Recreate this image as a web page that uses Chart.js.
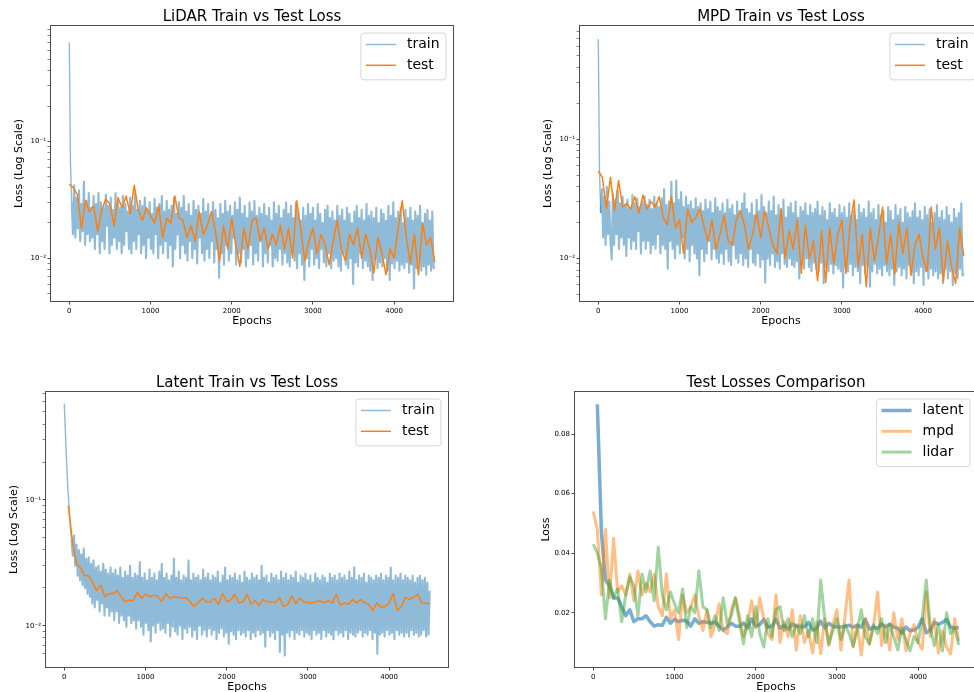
<!DOCTYPE html>
<html>
<head>
<meta charset="utf-8">
<script src="https://cdn.jsdelivr.net/npm/chart.js@4.4.1/dist/chart.umd.min.js"></script>
<style>
html, body { margin: 0; padding: 0; background: #fff; }
body { width: 974px; height: 692px; overflow: hidden; position: relative; }
.panel { position: absolute; }
</style>
</head>
<body>
<div class="panel" style="left:0px;top:0px;width:463px;height:332px"><canvas id="lidarChart"></canvas></div>
<div class="panel" style="left:529px;top:0px;width:463px;height:332px"><canvas id="mpdChart"></canvas></div>
<div class="panel" style="left:0px;top:366px;width:458px;height:332px"><canvas id="latentChart"></canvas></div>
<div class="panel" style="left:524px;top:366px;width:463px;height:332px"><canvas id="compareChart"></canvas></div>
<script>
// epochs: train read every 15, test every 50
const trainStep = 15;
const testStep = 50;
const xTicks = [0, 1000, 2000, 3000, 4000];
const logTickValues = [0.01, 0.1];
const logTickLabels = ['10⁻²', '10⁻¹'];
const lossTicks = [0.02, 0.04, 0.06, 0.08];

const lidarTrain = [
  0.70, 0.065, 0.030, 0.016, 0.042, 0.015, 0.033, 0.018, 0.038, 0.014, 0.029, 0.017, 0.045, 0.013, 0.031, 0.016, 0.036, 0.014, 0.027, 0.015,
  0.034, 0.012, 0.029, 0.016, 0.036, 0.011, 0.030, 0.014, 0.027, 0.012, 0.035, 0.019, 0.028, 0.011, 0.033, 0.013, 0.026, 0.015, 0.036, 0.012,
  0.030, 0.014, 0.027, 0.011, 0.034, 0.013, 0.029, 0.017, 0.025, 0.012, 0.033, 0.011, 0.028, 0.014, 0.036, 0.012, 0.026, 0.016, 0.031, 0.011,
  0.028, 0.013, 0.033, 0.010, 0.026, 0.015, 0.030, 0.012, 0.024, 0.011, 0.032, 0.016, 0.027, 0.010, 0.029, 0.013, 0.034, 0.011, 0.025, 0.014,
  0.031, 0.010, 0.026, 0.013, 0.028, 0.0085, 0.033, 0.012, 0.024, 0.016, 0.030, 0.010, 0.027, 0.013, 0.034, 0.011, 0.025, 0.0095, 0.029, 0.014,
  0.023, 0.010, 0.031, 0.012, 0.026, 0.009, 0.028, 0.015, 0.024, 0.011, 0.032, 0.0095, 0.025, 0.012, 0.029, 0.010, 0.023, 0.014, 0.030, 0.0092,
  0.026, 0.012, 0.022, 0.0068, 0.029, 0.011, 0.024, 0.0088, 0.031, 0.013, 0.025, 0.0095, 0.028, 0.011, 0.023, 0.015, 0.030, 0.0088, 0.026, 0.011,
  0.033, 0.0092, 0.024, 0.012, 0.028, 0.0085, 0.022, 0.010, 0.030, 0.013, 0.025, 0.0088, 0.031, 0.011, 0.023, 0.0095, 0.027, 0.014, 0.024, 0.0085,
  0.029, 0.011, 0.023, 0.0092, 0.027, 0.013, 0.021, 0.0085, 0.030, 0.010, 0.024, 0.0095, 0.028, 0.012, 0.022, 0.0088, 0.026, 0.011, 0.030, 0.0092,
  0.024, 0.0085, 0.028, 0.012, 0.022, 0.0095, 0.030, 0.0082, 0.025, 0.011, 0.021, 0.0088, 0.027, 0.0065, 0.023, 0.010, 0.029, 0.0085, 0.024, 0.012,
  0.027, 0.0088, 0.021, 0.010, 0.029, 0.0082, 0.024, 0.012, 0.020, 0.0092, 0.026, 0.0085, 0.028, 0.011, 0.022, 0.0082, 0.025, 0.0095, 0.021, 0.010,
  0.028, 0.0085, 0.023, 0.0078, 0.026, 0.011, 0.021, 0.0088, 0.027, 0.0082, 0.024, 0.010, 0.020, 0.006, 0.025, 0.0092, 0.028, 0.0085, 0.022, 0.011,
  0.026, 0.0082, 0.021, 0.0095, 0.029, 0.0085, 0.023, 0.0078, 0.025, 0.0065, 0.022, 0.0098, 0.027, 0.0082, 0.020, 0.0092, 0.026, 0.0085, 0.024, 0.010,
  0.021, 0.0078, 0.028, 0.0065, 0.023, 0.009, 0.030, 0.0082, 0.022, 0.0095, 0.025, 0.0078, 0.027, 0.0088, 0.020, 0.0082, 0.026, 0.0092, 0.022, 0.0075,
  0.027, 0.0088, 0.021, 0.0055, 0.025, 0.0082, 0.023, 0.0092, 0.028, 0.0078, 0.020, 0.0085, 0.024, 0.0072, 0.026, 0.0088, 0.021, 0.0078, 0.025, 0.0082,
  0.0085
];
const lidarTest = [
  0.043, 0.040, 0.035, 0.018, 0.031, 0.025, 0.028, 0.017, 0.026, 0.032,
  0.029, 0.019, 0.033, 0.027, 0.034, 0.024, 0.042, 0.026, 0.021, 0.027,
  0.023, 0.020, 0.028, 0.015, 0.022, 0.020, 0.034, 0.022, 0.021, 0.015,
  0.019, 0.014, 0.025, 0.016, 0.019, 0.025, 0.017, 0.0095, 0.019, 0.012,
  0.022, 0.013, 0.0085, 0.018, 0.012, 0.021, 0.022, 0.014, 0.018, 0.012,
  0.016, 0.013, 0.019, 0.012, 0.018, 0.010, 0.031, 0.018, 0.0095, 0.014,
  0.018, 0.011, 0.016, 0.013, 0.0088, 0.014, 0.021, 0.012, 0.0095, 0.016,
  0.013, 0.018, 0.010, 0.016, 0.012, 0.0075, 0.015, 0.011, 0.0072, 0.012,
  0.010, 0.018, 0.031, 0.015, 0.009, 0.016, 0.0072, 0.020, 0.013, 0.015,
  0.0092
];
const mpdTrain = [
  0.69, 0.055, 0.024, 0.038, 0.015, 0.033, 0.013, 0.040, 0.016, 0.030, 0.014, 0.0098, 0.035, 0.013, 0.031, 0.016, 0.037, 0.012, 0.029, 0.015,
  0.033, 0.013, 0.028, 0.0105, 0.031, 0.015, 0.026, 0.012, 0.034, 0.014, 0.029, 0.012, 0.032, 0.017, 0.027, 0.011, 0.030, 0.014, 0.033, 0.012,
  0.028, 0.014, 0.031, 0.011, 0.026, 0.013, 0.033, 0.012, 0.029, 0.016, 0.027, 0.011, 0.032, 0.013, 0.038, 0.012, 0.028, 0.0082, 0.030, 0.014,
  0.044, 0.012, 0.029, 0.010, 0.045, 0.013, 0.031, 0.011, 0.036, 0.015, 0.027, 0.010, 0.033, 0.012, 0.028, 0.0095, 0.030, 0.013, 0.026, 0.011,
  0.032, 0.010, 0.027, 0.0072, 0.029, 0.012, 0.025, 0.0095, 0.031, 0.011, 0.026, 0.014, 0.030, 0.0098, 0.024, 0.012, 0.032, 0.010, 0.027, 0.0092,
  0.025, 0.011, 0.029, 0.009, 0.024, 0.012, 0.031, 0.0095, 0.026, 0.0088, 0.028, 0.013, 0.023, 0.010, 0.030, 0.0092, 0.025, 0.011, 0.029, 0.0088,
  0.035, 0.010, 0.026, 0.0085, 0.024, 0.012, 0.029, 0.0092, 0.023, 0.0088, 0.031, 0.011, 0.025, 0.0085, 0.034, 0.0098, 0.027, 0.0063, 0.024, 0.010,
  0.030, 0.0088, 0.025, 0.011, 0.033, 0.0085, 0.023, 0.0095, 0.028, 0.0082, 0.026, 0.011, 0.031, 0.009, 0.022, 0.0085, 0.027, 0.010, 0.029, 0.0088,
  0.024, 0.0085, 0.030, 0.0095, 0.022, 0.0068, 0.027, 0.009, 0.025, 0.0082, 0.029, 0.010, 0.023, 0.0085, 0.028, 0.0078, 0.024, 0.0092, 0.026, 0.0082,
  0.030, 0.0078, 0.023, 0.0092, 0.027, 0.0062, 0.025, 0.0085, 0.021, 0.0078, 0.029, 0.009, 0.024, 0.0075, 0.026, 0.0088, 0.022, 0.0082, 0.028, 0.0078,
  0.024, 0.0057, 0.027, 0.0085, 0.022, 0.0078, 0.029, 0.009, 0.023, 0.0072, 0.025, 0.0085, 0.021, 0.0078, 0.028, 0.0062, 0.024, 0.0088, 0.026, 0.0075,
  0.022, 0.0085, 0.030, 0.0058, 0.024, 0.0078, 0.026, 0.009, 0.021, 0.0075, 0.028, 0.0082, 0.023, 0.0072, 0.025, 0.0088, 0.020, 0.0078, 0.027, 0.0072,
  0.025, 0.0082, 0.021, 0.006, 0.028, 0.0078, 0.023, 0.0085, 0.026, 0.0072, 0.020, 0.0082, 0.027, 0.0068, 0.024, 0.0088, 0.022, 0.0075, 0.025, 0.0062,
  0.029, 0.0078, 0.022, 0.0072, 0.025, 0.0085, 0.021, 0.006, 0.027, 0.0078, 0.023, 0.0068, 0.026, 0.0082, 0.020, 0.0072, 0.024, 0.0078, 0.028, 0.0068,
  0.022, 0.0075, 0.025, 0.0062, 0.021, 0.0082, 0.027, 0.0068, 0.023, 0.0078, 0.020, 0.006, 0.026, 0.0075, 0.022, 0.0068, 0.024, 0.0082, 0.029, 0.0072,
  0.0075
];
const mpdTest = [
  0.054, 0.048, 0.026, 0.048, 0.025, 0.045, 0.027, 0.029, 0.026, 0.033,
  0.024, 0.034, 0.026, 0.030, 0.027, 0.033, 0.022, 0.019, 0.033, 0.018,
  0.021, 0.011, 0.026, 0.020, 0.022, 0.026, 0.019, 0.014, 0.021, 0.012,
  0.016, 0.023, 0.014, 0.013, 0.021, 0.025, 0.019, 0.012, 0.016, 0.024,
  0.015, 0.025, 0.018, 0.013, 0.011, 0.026, 0.010, 0.017, 0.012, 0.021,
  0.0075, 0.019, 0.010, 0.014, 0.0065, 0.017, 0.0063, 0.018, 0.009, 0.016,
  0.021, 0.0075, 0.019, 0.031, 0.0085, 0.016, 0.0058, 0.018, 0.0095, 0.015,
  0.027, 0.009, 0.016, 0.0075, 0.020, 0.011, 0.018, 0.0072, 0.013, 0.016,
  0.010, 0.0078, 0.027, 0.012, 0.018, 0.0065, 0.014, 0.0085, 0.0062, 0.018,
  0.0105
];
const latentTrain = [
  0.58, 0.33, 0.19, 0.12, 0.085, 0.060, 0.048, 0.036, 0.052, 0.030, 0.044, 0.025, 0.040, 0.023, 0.037, 0.021, 0.041, 0.020, 0.034, 0.018,
  0.035, 0.017, 0.031, 0.015, 0.033, 0.014, 0.029, 0.016, 0.030, 0.013, 0.027, 0.015, 0.031, 0.012, 0.028, 0.014, 0.026, 0.012, 0.029, 0.013,
  0.026, 0.011, 0.028, 0.013, 0.025, 0.0105, 0.029, 0.012, 0.024, 0.011, 0.027, 0.0098, 0.025, 0.012, 0.030, 0.0105, 0.024, 0.011, 0.026, 0.0095,
  0.025, 0.011, 0.032, 0.0098, 0.024, 0.0085, 0.026, 0.0105, 0.023, 0.0092, 0.028, 0.0075, 0.024, 0.010, 0.026, 0.0088, 0.023, 0.0105, 0.027, 0.0092,
  0.031, 0.0095, 0.024, 0.0088, 0.026, 0.0105, 0.023, 0.0082, 0.025, 0.0098, 0.034, 0.009, 0.024, 0.0085, 0.027, 0.010, 0.023, 0.0078, 0.025, 0.0095,
  0.024, 0.0088, 0.033, 0.0098, 0.023, 0.0082, 0.026, 0.0092, 0.024, 0.0078, 0.025, 0.010, 0.023, 0.0085, 0.028, 0.0092, 0.024, 0.0082, 0.026, 0.0095,
  0.023, 0.0085, 0.025, 0.0092, 0.024, 0.0078, 0.027, 0.0088, 0.022, 0.0095, 0.025, 0.0082, 0.029, 0.0088, 0.023, 0.0072, 0.025, 0.009, 0.024, 0.0085,
  0.026, 0.0078, 0.023, 0.0092, 0.025, 0.0085, 0.022, 0.0088, 0.027, 0.0082, 0.024, 0.0092, 0.023, 0.0078, 0.026, 0.0088, 0.024, 0.0082, 0.025, 0.0092,
  0.023, 0.0085, 0.030, 0.0088, 0.024, 0.0068, 0.025, 0.0092, 0.022, 0.0082, 0.026, 0.0088, 0.024, 0.0078, 0.025, 0.0092, 0.023, 0.0062, 0.027, 0.0085,
  0.024, 0.0058, 0.026, 0.0088, 0.023, 0.0082, 0.025, 0.0092, 0.024, 0.0078, 0.027, 0.0088, 0.022, 0.0085, 0.025, 0.0092, 0.024, 0.0082, 0.026, 0.0088,
  0.023, 0.0085, 0.025, 0.0078, 0.022, 0.0092, 0.026, 0.0085, 0.024, 0.0088, 0.023, 0.0078, 0.025, 0.0092, 0.024, 0.0082, 0.022, 0.0088, 0.026, 0.0085,
  0.024, 0.0078, 0.025, 0.0092, 0.023, 0.0085, 0.026, 0.0088, 0.024, 0.0082, 0.025, 0.0092, 0.023, 0.0078, 0.027, 0.0088, 0.024, 0.0085, 0.029, 0.0082,
  0.023, 0.0088, 0.025, 0.0092, 0.024, 0.0082, 0.026, 0.0088, 0.022, 0.0085, 0.025, 0.0092, 0.024, 0.0078, 0.023, 0.0088, 0.025, 0.006, 0.024, 0.0085,
  0.026, 0.0088, 0.023, 0.0082, 0.025, 0.0092, 0.024, 0.0085, 0.029, 0.0088, 0.023, 0.0078, 0.025, 0.0092, 0.024, 0.0085, 0.026, 0.0088, 0.023, 0.0082,
  0.025, 0.0088, 0.024, 0.0082, 0.023, 0.0092, 0.025, 0.0085, 0.022, 0.0088, 0.024, 0.0082, 0.025, 0.0085, 0.023, 0.0092, 0.024, 0.0082, 0.022, 0.0085,
  0.019
];
const latentTest = [
  0.09, 0.047, 0.031, 0.029, 0.025, 0.025, 0.022, 0.019, 0.021, 0.017,
  0.018, 0.018, 0.019, 0.017, 0.0155, 0.016, 0.0158, 0.0185, 0.0165, 0.0178,
  0.017, 0.0175, 0.0172, 0.0155, 0.018, 0.0165, 0.017, 0.0168, 0.0165, 0.0168,
  0.0155, 0.0142, 0.0152, 0.0165, 0.0155, 0.0155, 0.0165, 0.0148, 0.018, 0.0155,
  0.016, 0.0178, 0.0152, 0.0155, 0.0178, 0.0148, 0.0158, 0.0145, 0.0162, 0.0155,
  0.0155, 0.0153, 0.0168, 0.0142, 0.0148, 0.0172, 0.015, 0.0165, 0.0155, 0.0152,
  0.0152, 0.0155, 0.0158, 0.0152, 0.0158, 0.0152, 0.0178, 0.0145, 0.0152, 0.0148,
  0.0162, 0.0152, 0.0162, 0.0152, 0.0148, 0.0132, 0.0152, 0.014, 0.0142, 0.0152,
  0.018, 0.0133, 0.0142, 0.0168, 0.0162, 0.0168, 0.0178, 0.0152, 0.015, 0.015
];

Chart.defaults.font.family = '"DejaVu Sans", sans-serif';
Chart.defaults.color = '#000';

function points(values, start, step) {
  return values.map((v, i) => ({ x: start + i * step, y: v }));
}

function isPow10(v) {
  return Math.abs(Math.log10(v) - Math.round(Math.log10(v))) < 1e-6;
}

function isLogTick(v) {
  const e = Math.floor(Math.log10(v) + 1e-9);
  const s = v / Math.pow(10, e);
  return Math.abs(s - Math.round(s)) < 1e-6;
}

// axes box, like matplotlib's spines
const framePlugin = {
  id: 'frame',
  afterDraw(chart) {
    const { ctx, chartArea: a } = chart;
    ctx.save();
    ctx.strokeStyle = '#4d4d4d';
    ctx.lineWidth = 1;
    ctx.strokeRect(Math.round(a.left) - 0.5, Math.round(a.top) - 0.5,
      Math.round(a.right - a.left) + 1, Math.round(a.bottom - a.top) + 1);
    ctx.restore();
  }
};

// legend in the upper right corner of the axes
const boxLegend = {
  id: 'boxLegend',
  afterDraw(chart) {
    const { ctx, chartArea: a } = chart;
    const sets = chart.data.datasets;
    ctx.save();
    ctx.font = '14px "DejaVu Sans"';
    const textW = Math.max(...sets.map(d => ctx.measureText(d.label).width));
    const w = 46 + textW + 6.5;
    const h = 11.5 + 20.8 * (sets.length - 1) + 14.5;
    const x = a.right - 7 - w, y = a.top + 7;
    ctx.beginPath();
    ctx.roundRect(x, y, w, h, 3);
    ctx.fillStyle = 'rgba(255,255,255,0.8)';
    ctx.fill();
    ctx.strokeStyle = '#d6d6d6';
    ctx.lineWidth = 1;
    ctx.stroke();
    sets.forEach((d, i) => {
      const ly = y + 11.5 + 20.8 * i;
      ctx.beginPath();
      ctx.moveTo(x + 5, ly);
      ctx.lineTo(x + 35, ly);
      ctx.strokeStyle = d.borderColor;
      ctx.lineWidth = d.legendWidth || d.borderWidth;
      ctx.stroke();
      ctx.fillStyle = '#000';
      ctx.textBaseline = 'middle';
      ctx.fillText(d.label, x + 46, ly);
    });
    ctx.restore();
  }
};

function xScale() {
  return {
    type: 'linear', min: -225, max: 4725,
    afterBuildTicks: s => { s.ticks = xTicks.map(v => ({ value: v })); },
    afterFit: s => { s.height = 31; },
    border: { display: false },
    grid: { drawOnChartArea: false, tickLength: 3.5, tickColor: '#333', tickWidth: 0.9 },
    ticks: { autoSkip: false, maxRotation: 0, padding: 2, font: { size: 7 }, callback: v => String(v) },
    title: { display: true, text: 'Epochs', font: { size: 11, lineHeight: 1.2 }, padding: { top: 0, bottom: 4.4 } }
  };
}

function logScale(min, max, axisW, titlePad) {
  return {
    type: 'logarithmic', min: min, max: max,
    afterBuildTicks: s => { s.ticks = s.ticks.filter(t => isLogTick(t.value) && t.value > min && t.value < max); },
    afterFit: s => { s.width = axisW; },
    border: { display: false },
    grid: {
      drawOnChartArea: false, tickLength: 3.5, tickColor: '#333',
      tickWidth: c => (c.tick && isPow10(c.tick.value)) ? 0.9 : 0.6
    },
    ticks: {
      autoSkip: false, padding: 1.5, font: { size: 7 },
      callback: v => {
        const i = logTickValues.findIndex(t => Math.abs(t - v) < 1e-9);
        return i >= 0 ? logTickLabels[i] : '';
      }
    },
    title: { display: true, text: 'Loss (Log Scale)', font: { size: 11, lineHeight: 1.2 }, padding: { top: titlePad, bottom: 0 } }
  };
}

function titleOpts(text) {
  return {
    display: true, text: text, fullSize: false, color: '#000',
    font: { size: 15, weight: 'normal', lineHeight: 1.2 },
    padding: { top: 8, bottom: 0 }
  };
}

// thinUntil: the first descent is a single thin stroke, the noisy band is drawn a bit wider
function trainTestChart(id, title, train, test, testStart, yMin, yMax, axisW, titlePad, thinUntil) {
  return new Chart(document.getElementById(id), {
    type: 'line',
    data: {
      datasets: [
        {
          label: 'train', data: points(train, 0, trainStep), order: 2,
          borderColor: 'rgba(31,119,180,0.5)', borderWidth: 2.1, legendWidth: 1.5,
          segment: { borderWidth: c => c.p0DataIndex < thinUntil ? 1.4 : undefined }
        },
        {
          label: 'test', data: points(test, testStart, testStep), order: 1,
          borderColor: '#ff7f0e', borderWidth: 1.5
        }
      ]
    },
    options: {
      responsive: true, maintainAspectRatio: false, animation: false,
      layout: { padding: { right: 10 } },
      elements: { point: { radius: 0 }, line: { tension: 0, borderJoinStyle: 'round' } },
      scales: { x: xScale(), y: logScale(yMin, yMax, axisW, titlePad) },
      plugins: { legend: { display: false }, tooltip: { enabled: false }, title: titleOpts(title) }
    },
    plugins: [framePlugin, boxLegend]
  });
}

trainTestChart('lidarChart', 'LiDAR Train vs Test Loss', lidarTrain, lidarTest, 0, 0.0043, 0.97, 51, 12.7, 2);
trainTestChart('mpdChart', 'MPD Train vs Test Loss', mpdTrain, mpdTest, 0, 0.0044, 0.89, 51, 12.1, 2);
trainTestChart('latentChart', 'Latent Train vs Test Loss', latentTrain, latentTest, 50, 0.0047, 0.72, 46, 7.4, 6);

new Chart(document.getElementById('compareChart'), {
  type: 'line',
  data: {
    datasets: [
      { label: 'latent', data: points(latentTest, 50, testStep), order: 3, borderColor: 'rgba(31,119,180,0.6)', borderWidth: 3.5 },
      { label: 'mpd', data: points(mpdTest, 0, testStep), order: 2, borderColor: 'rgba(255,127,14,0.5)', borderWidth: 3 },
      { label: 'lidar', data: points(lidarTest, 0, testStep), order: 1, borderColor: 'rgba(44,160,44,0.45)', borderWidth: 3 }
    ]
  },
  options: {
    responsive: true, maintainAspectRatio: false, animation: false,
    layout: { padding: { right: 10 } },
    elements: { point: { radius: 0 }, line: { tension: 0, borderJoinStyle: 'round' } },
    scales: {
      x: xScale(),
      y: {
        type: 'linear', min: 0.0018, max: 0.0941,
        afterBuildTicks: s => { s.ticks = lossTicks.map(v => ({ value: v })); },
        afterFit: s => { s.width = 51; },
        border: { display: false },
        grid: { drawOnChartArea: false, tickLength: 3.5, tickColor: '#333', tickWidth: 0.9 },
        ticks: { autoSkip: false, padding: 1.5, font: { size: 7 }, callback: v => v.toFixed(2) },
        title: { display: true, text: 'Loss', font: { size: 11, lineHeight: 1.2 }, padding: { top: 15.1, bottom: 0 } }
      }
    },
    plugins: { legend: { display: false }, tooltip: { enabled: false }, title: titleOpts('Test Losses Comparison') }
  },
  plugins: [framePlugin, boxLegend]
});
</script>
</body>
</html>
